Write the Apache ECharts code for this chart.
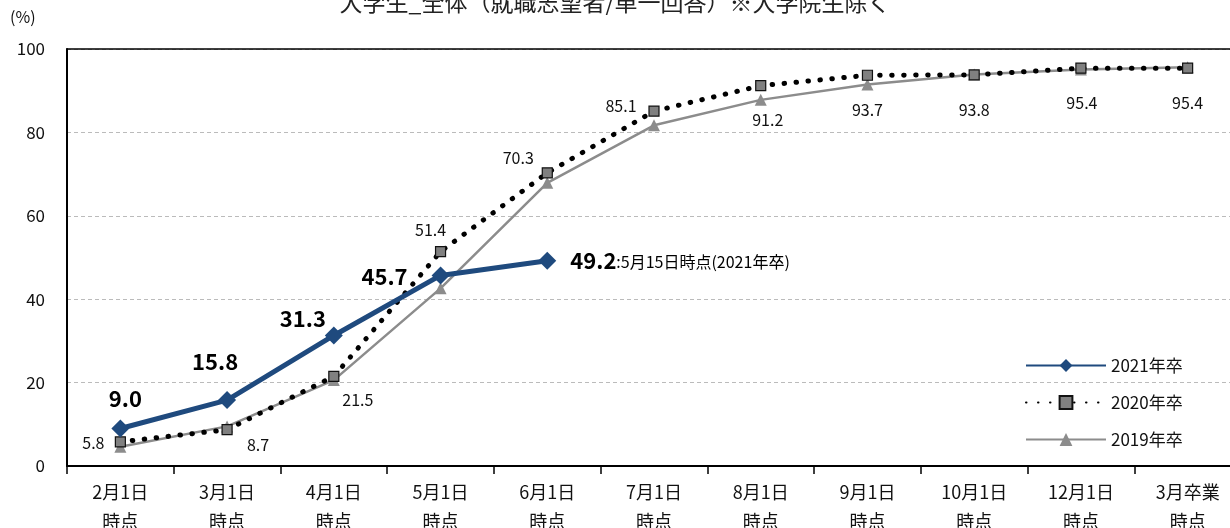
<!DOCTYPE html>
<html>
<head>
<meta charset="utf-8">
<script src="https://cdn.jsdelivr.net/npm/echarts@6/dist/echarts.min.js"></script>
<style>
  html, body { margin: 0; padding: 0; background: #fff; }
  #chart { width: 1230px; height: 528px; }
</style>
</head>
<body>
<div id="chart"></div>
<script>
const categories = ["2月1日\n時点", "3月1日\n時点", "4月1日\n時点", "5月1日\n時点", "6月1日\n時点",
  "7月1日\n時点", "8月1日\n時点", "9月1日\n時点", "10月1日\n時点", "12月1日\n時点", "3月卒業\n時点"];
const data2021 = [9.0, 15.8, 31.3, 45.7, 49.2, null, null, null, null, null, null];
const data2020 = [5.8, 8.7, 21.5, 51.4, 70.3, 85.1, 91.2, 93.7, 93.8, 95.4, 95.4];
const data2019 = [4.6, 9.5, 20.6, 42.6, 67.9, 81.7, 87.8, 91.5, 93.9, 95.1, 95.6];
const yTicks = [0, 20, 40, 60, 80, 100];
const latestNote = ":5月15日時点(2021年卒)";

// label offsets (pixels) for each point
const off2021 = [[5, -30], [-12, -38], [-31, -17], [-56, 1]];
const off2020 = [[-27, 1], [31, 15], [24, 24], [-10, -22], [-29, -15], [-33, -5],
  [7, 34], [0, 35], [0, 35], [1, 35], [0, 35]];

const font = '"Noto Sans CJK JP", "Noto Sans", sans-serif';
const chart = echarts.init(document.getElementById("chart"));

const series2021 = data2021.map((v, i) => {
  if (v == null) return v;
  if (i === 4) {
    return {
      value: v,
      label: {
        show: true, position: "right", distance: 14,
        formatter: (p) => "{b|" + p.value.toFixed(1) + "}{s|" + latestNote + "}",
        rich: {
          b: { fontSize: 22, fontWeight: "bold", color: "#000", fontFamily: font },
          s: { fontSize: 16, color: "#000", fontFamily: font, padding: [3, 0, 0, 0] },
        },
      },
    };
  }
  return {
    value: v,
    label: {
      show: true, position: "inside", offset: off2021[i],
      formatter: (p) => p.value.toFixed(1),
      fontSize: 22, fontWeight: "bold", color: "#000", fontFamily: font,
    },
  };
});

const series2020 = data2020.map((v, i) => ({
  value: v,
  label: {
    show: true, position: "inside", offset: off2020[i],
    formatter: (p) => p.value.toFixed(1),
    fontSize: 16, color: "#111", fontFamily: font,
  },
}));

chart.setOption({
  animation: false,
  textStyle: { fontFamily: font },
  title: {
    text: "大学生_全体（就職志望者/単一回答）※大学院生除く",
    left: "center", top: -14,
    textStyle: { fontSize: 23, fontWeight: "normal", color: "#222", fontFamily: font },
  },
  graphic: [{
    type: "text", left: 10, top: 9,
    style: { text: "(%)", fontSize: 16, fill: "#111", fontFamily: font },
  }],
  legend: {
    orient: "vertical", left: 1020, top: 352,
    itemWidth: 80, itemHeight: 16, itemGap: 20,
    textStyle: { fontSize: 17, color: "#111", fontFamily: font },
    data: ["2021年卒", "2020年卒", "2019年卒"],
  },
  grid: {
    left: 67, top: 49, bottom: 62, width: 1174,
    outerBoundsMode: "none", containLabel: false,
  },
  xAxis: [
    {
      type: "category", data: categories, boundaryGap: true,
      axisLine: { lineStyle: { color: "#000", width: 2 } },
      axisTick: { show: true, length: 8, lineStyle: { color: "#000", width: 1.5 } },
      axisLabel: { fontSize: 18, color: "#111", lineHeight: 29, margin: 12, fontFamily: font },
    },
    {
      // top frame line of the plot area
      type: "category", data: categories, position: "top",
      axisLine: { lineStyle: { color: "#000", width: 1.5 } },
      axisTick: { show: false }, axisLabel: { show: false }, splitLine: { show: false },
      z: 10,
    },
  ],
  yAxis: {
    type: "value", min: yTicks[0], max: yTicks[yTicks.length - 1], interval: 20,
    axisLine: { show: true, lineStyle: { color: "#000", width: 2 } },
    axisTick: { show: false },
    axisLabel: { fontSize: 17, color: "#111", margin: 22, fontFamily: font },
    splitLine: { lineStyle: { color: "#bbb", type: [4, 3], width: 1 } },
  },
  series: [
    {
      name: "2019年卒", type: "line", data: data2019, z: 2,
      symbol: "triangle", symbolSize: 12,
      itemStyle: { color: "#8c8c8c" },
      lineStyle: { color: "#8c8c8c", width: 2.5 },
    },
    {
      name: "2020年卒", type: "line", data: series2020, z: 3,
      symbol: "rect", symbolSize: 10,
      itemStyle: { color: "#808080", borderColor: "#111", borderWidth: 1.2 },
      lineStyle: { color: "#000", width: 5, type: [0.5, 11.5], cap: "round" },
    },
    {
      name: "2021年卒", type: "line", data: series2021, z: 4,
      symbol: "diamond", symbolSize: 18,
      itemStyle: { color: "#1f4a7e" },
      lineStyle: { color: "#1f4a7e", width: 5 },
    },
  ],
});
</script>
</body>
</html>
